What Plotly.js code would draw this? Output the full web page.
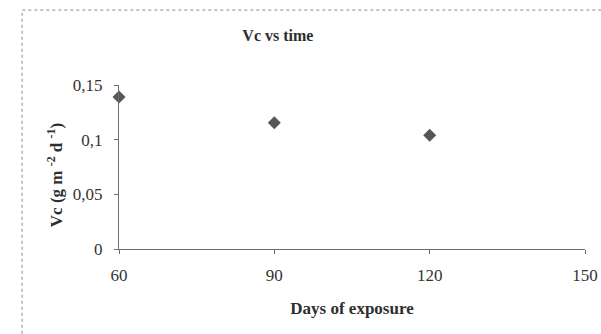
<!DOCTYPE html>
<html>
<head>
<meta charset="utf-8">
<script src="https://cdn.plot.ly/plotly-3.0.1.min.js"></script>
<style>
html,body{margin:0;padding:0;background:#fff;}
#chart{width:601px;height:334px;}
</style>
</head>
<body>
<div id="chart"></div>
<script>
// Data
var days = [60, 90, 120];
var vc = [0.139, 0.1155, 0.104];
var xTickVals = [60, 90, 120, 150];
var xTickText = ['60', '90', '120', '150'];
var yTickVals = [0, 0.05, 0.1, 0.15];
var yTickText = ['0', '0,05', '0,1', '0,15'];
var yTitle = 'Vc (g m <sup>-2</sup> d <sup>-1</sup>)';

var serif = 'Liberation Serif, Times New Roman, serif';
var axisColor = '#6e6e6e';
var textColor = '#333333';

var trace = {
  x: days,
  y: vc,
  type: 'scatter',
  mode: 'markers',
  marker: {symbol: 'diamond', size: 10, color: '#565656', line: {width: 0}},
  cliponaxis: false,
  hoverinfo: 'skip'
};

var layout = {
  width: 601,
  height: 334,
  margin: {l: 119, r: 16, t: 85, b: 85},
  paper_bgcolor: '#ffffff',
  plot_bgcolor: '#ffffff',
  showlegend: false,
  font: {family: serif, size: 17, color: textColor},
  title: {
    text: 'Vc vs time',
    font: {family: serif, size: 16, color: '#2e2e2e', weight: 'bold'},
    xref: 'paper', x: 0.341, xanchor: 'center',
    yref: 'container', y: 0.895, yanchor: 'middle'
  },
  xaxis: {
    range: [60, 150],
    tickmode: 'array', tickvals: xTickVals, ticktext: xTickText,
    showgrid: false, zeroline: false,
    showline: true, linecolor: axisColor, linewidth: 1,
    ticks: 'outside', ticklen: 4, tickcolor: axisColor, tickwidth: 1,
    ticklabelstandoff: 7,
    tickfont: {family: serif, size: 17, color: textColor},
    title: {text: 'Days of exposure', standoff: 17,
            font: {family: serif, size: 17, color: '#2e2e2e', weight: 'bold'}},
    fixedrange: true
  },
  yaxis: {
    range: [0, 0.15],
    tickmode: 'array', tickvals: yTickVals, ticktext: yTickText,
    showgrid: false, zeroline: false,
    showline: true, linecolor: axisColor, linewidth: 1,
    ticks: 'outside', ticklen: 4, tickcolor: axisColor, tickwidth: 1,
    ticklabelstandoff: 8,
    tickfont: {family: serif, size: 17, color: textColor},
    fixedrange: true
  },
  annotations: [{
    text: yTitle, textangle: -90,
    xref: 'paper', yref: 'paper', x: -0.137, y: 0.451,
    xanchor: 'center', yanchor: 'middle', showarrow: false,
    font: {family: serif, size: 17, color: '#2e2e2e', weight: 'bold'}
  }],
  shapes: [{
    type: 'rect', xref: 'paper', yref: 'paper',
    x0: -0.208, x1: 1.05, y0: -0.56, y1: 1.457,
    line: {color: '#8a8a8a', width: 1, dash: 'dot'},
    fillcolor: 'rgba(0,0,0,0)', layer: 'below'
  }]
};

Plotly.newPlot('chart', [trace], layout, {staticPlot: true, displayModeBar: false});
</script>
</body>
</html>
